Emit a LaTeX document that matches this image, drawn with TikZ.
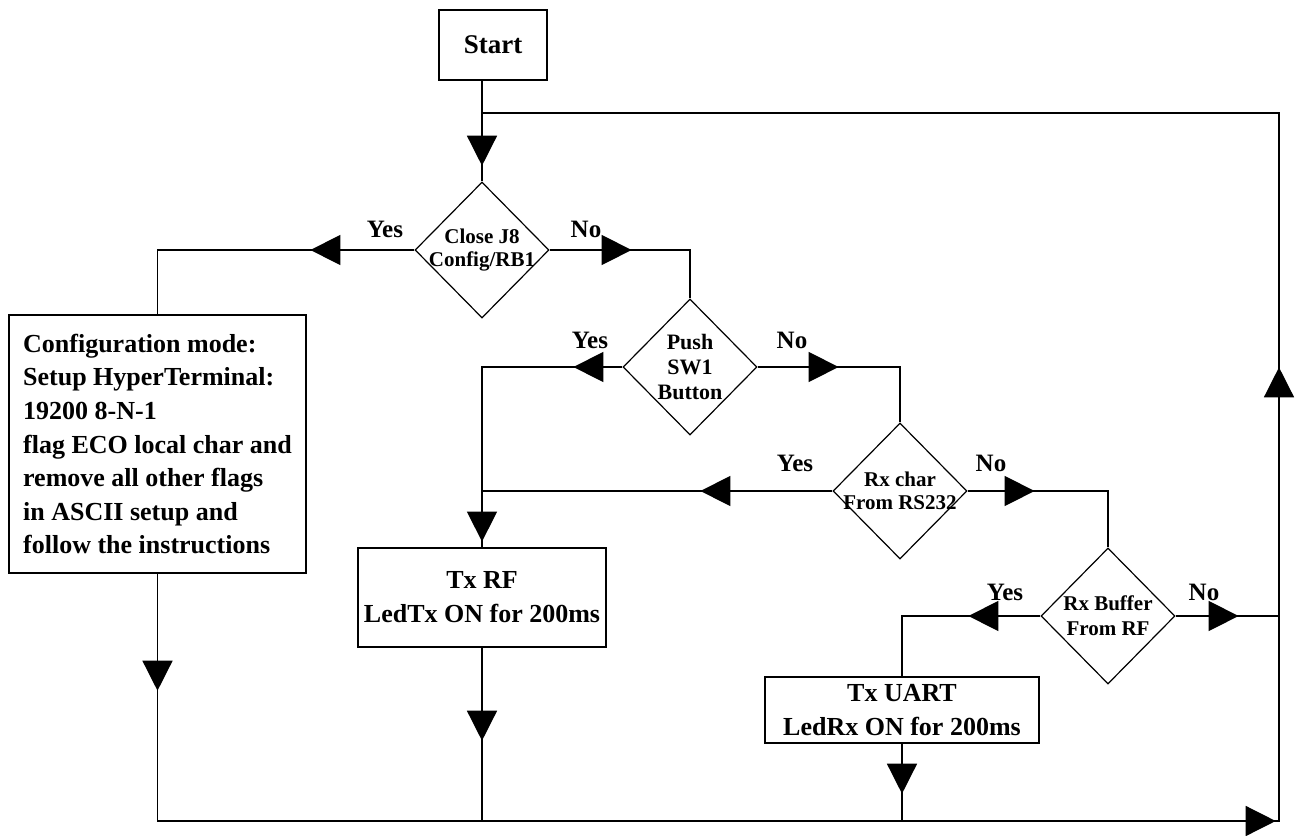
\documentclass[tikz,border=0pt]{standalone}
\usepackage{fontspec}
\setmainfont{Liberation Serif}
\usetikzlibrary{shapes.geometric, arrows.meta, decorations.markings}
\tikzstyle{flow} = [line width=0.7pt]
\tikzset{bigtri/.tip={Triangle[length=15pt,width=15pt]},
  flowtip/.style={postaction={decorate,
      decoration={markings, mark=at position #1 with {\arrow{bigtri}}}}}}

\begin{document}
\begin{tikzpicture}[x=0.5pt, y=-0.5pt]
                    \tikzstyle{box} = [draw, rectangle, line width=0.7pt, align=center,
                    inner sep=0pt, font=\fontsize{13}{17}\selectfont\bfseries]
                    \tikzstyle{decision} = [draw, diamond, line width=0.6pt,
                    minimum width=67pt, minimum height=68pt, inner sep=0pt]
                    \tikzstyle{dtext} = [align=center, inner sep=0pt,
                    font=\fontsize{10.5}{11.5}\selectfont\bfseries]
                    \tikzstyle{lbl} = [font=\fontsize{12.5}{14}\selectfont\bfseries]

                    \useasboundingbox (0,0) rectangle (1303,836);

                    % boxes and decisions
                    \node[box, minimum width=54pt, minimum height=35pt,
                      font=\fontsize{13.5}{16}\selectfont\bfseries] (start) at (493,45) {Start};
                    \node[decision, label={[dtext]center:{Close J8\\Config/RB1}}] (dec1) at (482,250) {};
                    \node[decision, label={[dtext, font=\fontsize{11}{12.5}\selectfont\bfseries]center:{Push\\SW1\\Button}}] (dec2) at (690,367) {};
                    \node[decision, label={[dtext]center:{Rx char\\From RS232}}] (dec3) at (900,491) {};
                    \node[decision, label={[dtext, font=\fontsize{10.5}{12.5}\selectfont\bfseries]center:{Rx Buffer\\From RF}}] (dec4) at (1108,616) {};
                    \node[box, align=left, inner xsep=5pt, minimum width=148.5pt,
                      minimum height=129pt, font=\fontsize{13}{16.8}\selectfont\bfseries] (cfg) at (157.5,444)
                      {Configuration mode:\\Setup HyperTerminal:\\19200 8-N-1\\flag ECO local char and\\remove all other flags\\in ASCII setup and\\follow the instructions};
                    \node[box, minimum width=124pt, minimum height=49.5pt] (txrf) at (482,597.5) {Tx RF\\LedTx ON for 200ms};
                    \node[box, minimum width=137pt, minimum height=33pt] (txuart) at (902,710) {Tx UART\\LedRx ON for 200ms};

                    \coordinate (rt) at (1279,113);
                    \coordinate (rb) at (1279,821);

                    % connectors
                    \draw[flow, flowtip=42.5pt] (start.south -| dec1.north) -- (dec1.north);
                    \draw[flow, flowtip=52pt] (dec1.west) -- (dec1.west -| cfg.north) -- (cfg.north);
                    \draw[flow, flowtip=41pt] (dec1.east) -- (dec1.east -| dec2.north) -- (dec2.north);
                    \draw[flow, flowtip=24.5pt, flowtip=157.5pt] (dec2.west) -- (dec2.west -| txrf.north) -- (txrf.north);
                    \draw[flow, flowtip=40.5pt] (dec2.east) -- (dec2.east -| dec3.north) -- (dec3.north);
                    \draw[flow, flowtip=66pt] (dec3.west) -- (dec3.west -| txrf.north);
                    \draw[flow, flowtip=33.5pt] (dec3.east) -- (dec3.east -| dec4.north) -- (dec4.north);
                    \draw[flow, flowtip=36pt] (dec4.west) -- (dec4.west -| txuart.north) -- (txuart.north);
                    \draw[flow, flowtip=31.5pt] (dec4.east) -- (dec4.east -| rt);
                    \draw[flow, flowtip=46.5pt] (txrf.south) -- (txrf.south |- rb);
                    \draw[flow, flowtip=25pt] (txuart.south) -- (txuart.south |- rb);
                    \draw[flow, flowtip=58.5pt, flowtip=682.75pt, flowtip=911.25pt]
                      (cfg.south) -- (cfg.south |- rb) -- (rb) -- (rt) -- (rt -| dec1.north);

                    % branch labels
                    \node[lbl] (yes1) at (385,229) {Yes};
                    \node[lbl] (no1) at (586,229) {No};
                    \node[lbl] (yes2) at (590,340) {Yes};
                    \node[lbl] (no2) at (792,340) {No};
                    \node[lbl] (yes3) at (795,463) {Yes};
                    \node[lbl] (no3) at (991,463) {No};
                    \node[lbl] (yes4) at (1005,592) {Yes};
                    \node[lbl] (no4) at (1204,592) {No};
        
            \end{tikzpicture}
\end{document}
